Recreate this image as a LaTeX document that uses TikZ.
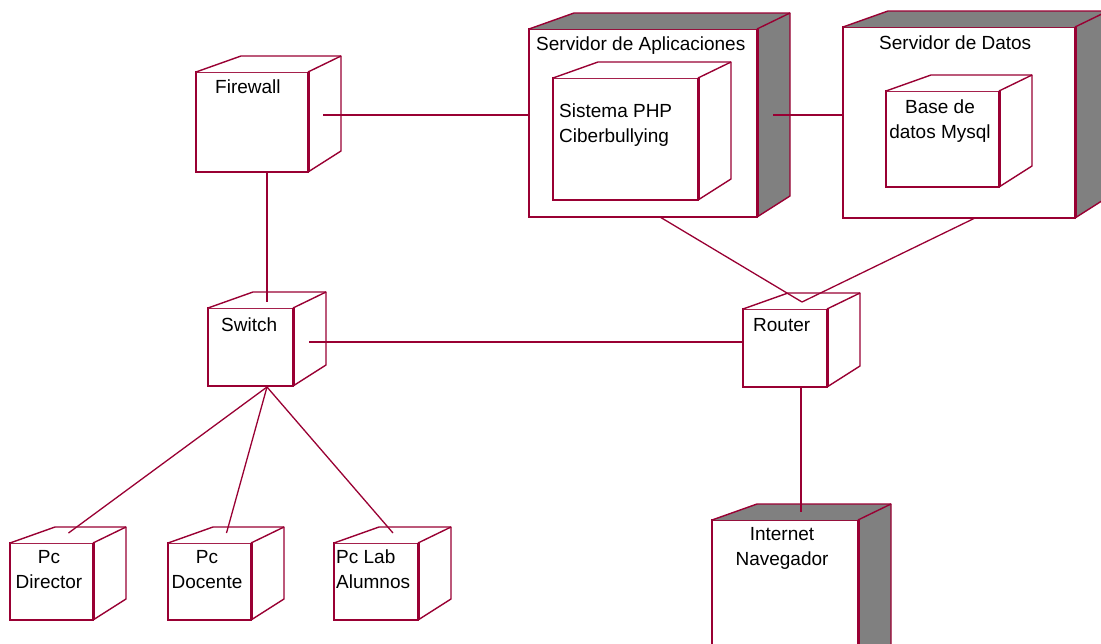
\documentclass[tikz,border=0pt]{standalone}
\usepackage{fontspec}
\setmainfont{Liberation Sans}
\usepackage{xcolor}
\usetikzlibrary{calc}

\definecolor{rosa}{RGB}{153,0,51}
\definecolor{sombra}{RGB}{128,128,128}

\tikzset{
  frente/.style={draw=rosa, line width=1.4pt, fill=white, anchor=north west, inner sep=0pt, outer sep=0pt},
  linea/.style={draw=rosa, line width=1.4pt, line join=round},
  enlace/.style={draw=rosa, line width=1.3pt},
  texto/.style={inner sep=0pt, font=\fontsize{19}{25}\selectfont},
}

% 3D deployment node: [fill] name, x, y, width, height
\newcommand{\nodocubo}[6][white]{%
  \node[frente, minimum width=#5pt, minimum height=#6pt] (#2) at (#3,#4) {};
  \fill[#1] (#2.north west) -- ++(45,-16) -- ($(#2.north east)+(33,-16)$)
    -- ($(#2.south east)+(33,-21)$) -- (#2.south east) -- (#2.north east) -- cycle;
  \draw[linea] (#2.north west) -- ++(45,-16) -- ($(#2.north east)+(33,-16)$)
    -- ($(#2.south east)+(33,-21)$) -- (#2.south east);
  \draw[linea] (#2.north east) -- ++(33,-16);
  \draw[rosa, line width=3pt] (#2.north east) -- (#2.south east);
}

\begin{document}
\begin{tikzpicture}[x=1pt, y=-1pt]
  \useasboundingbox (0,0) rectangle (1101,643);
  \clip (0,0) rectangle (1101,643);

  % Servers
  \nodocubo[sombra]{app}{529}{29}{228}{188}
  \nodocubo{php}{553}{78}{145}{122}
  \nodocubo[sombra]{dat}{843}{27}{232}{191}
  \nodocubo{bd}{886}{91}{113}{96}

  % Network
  \nodocubo{fw}{196}{72}{112}{100}
  \nodocubo{sw}{208}{308}{85}{78}
  \nodocubo{rt}{743}{309}{84}{78}
  \nodocubo[sombra]{inet}{712}{520}{146}{150}

  % Clients
  \nodocubo{pc1}{10}{543}{83}{77}
  \nodocubo{pc2}{168}{543}{83}{77}
  \nodocubo{pc3}{334}{543}{84}{77}

  % Labels (two-line labels sit on the baseline of their last line)
  \node[texto, anchor=base west] (t-app) at (536,50) {Servidor de Aplicaciones};
  \node[texto, anchor=base west, align=left] (t-php) at (559,142) {Sistema PHP\\Ciberbullying};
  \node[texto, anchor=base west] (t-dat) at (879,49) {Servidor de Datos};
  \node[texto, anchor=base, align=center] (t-bd) at (940,138) {Base de\\datos Mysql};
  \node[texto, anchor=base west] (t-fw) at (215,93) {Firewall};
  \node[texto, anchor=base west] (t-sw) at (221,331) {Switch};
  \node[texto, anchor=base west] (t-rt) at (753,331) {Router};
  \node[texto, anchor=base, align=center] (t-inet) at (782,565) {Internet\\Navegador};
  \node[texto, anchor=base, align=center] (t-pc1) at (49,588) {Pc\\Director};
  \node[texto, anchor=base, align=center] (t-pc2) at (207,588) {Pc\\Docente};
  \node[texto, anchor=base west, align=left] (t-pc3) at (336,588) {Pc Lab\\Alumnos};

  % Connection points
  \coordinate (fw-d) at ($(fw.east)+(15,-7)$);
  \coordinate (fw-b) at ($(fw.south)+(15,0)$);
  \coordinate (app-d) at ($(app.east)+(16,-8)$);
  \coordinate (app-b) at ($(app.south)+(17,0)$);
  \coordinate (dat-b) at ($(dat.south)+(16,0)$);
  \coordinate (sw-a) at ($(sw.north)+(16.5,-6)$);
  \coordinate (sw-d) at ($(sw.east)+(16,-5)$);
  \coordinate (sw-b) at ($(sw.south)+(16.5,1)$);
  \coordinate (rt-a) at ($(rt.north)+(17,-7)$);
  \coordinate (rt-b) at ($(rt.south)+(16,0)$);
  \coordinate (inet-a) at ($(inet.north)+(16,-8)$);
  \coordinate (pc1-a) at ($(pc1.north)+(17,-10)$);
  \coordinate (pc2-a) at ($(pc2.north)+(17,-10)$);
  \coordinate (pc3-a) at ($(pc3.north)+(17,-10)$);

  % Connections
  \draw[enlace] (fw-d) -- (fw-d -| app.west);
  \draw[enlace] (app-d) -- (app-d -| dat.west);
  \draw[enlace] (fw-b) -- (sw-a);
  \draw[enlace] (sw-d) -- (sw-d -| rt.west);
  \draw[enlace] (app-b) -- (rt-a);
  \draw[enlace] (dat-b) -- (rt-a);
  \draw[enlace] (rt-b) -- (inet-a);
  \draw[enlace] (sw-b) -- (pc1-a);
  \draw[enlace] (sw-b) -- (pc2-a);
  \draw[enlace] (sw-b) -- (pc3-a);
\end{tikzpicture}
\end{document}
